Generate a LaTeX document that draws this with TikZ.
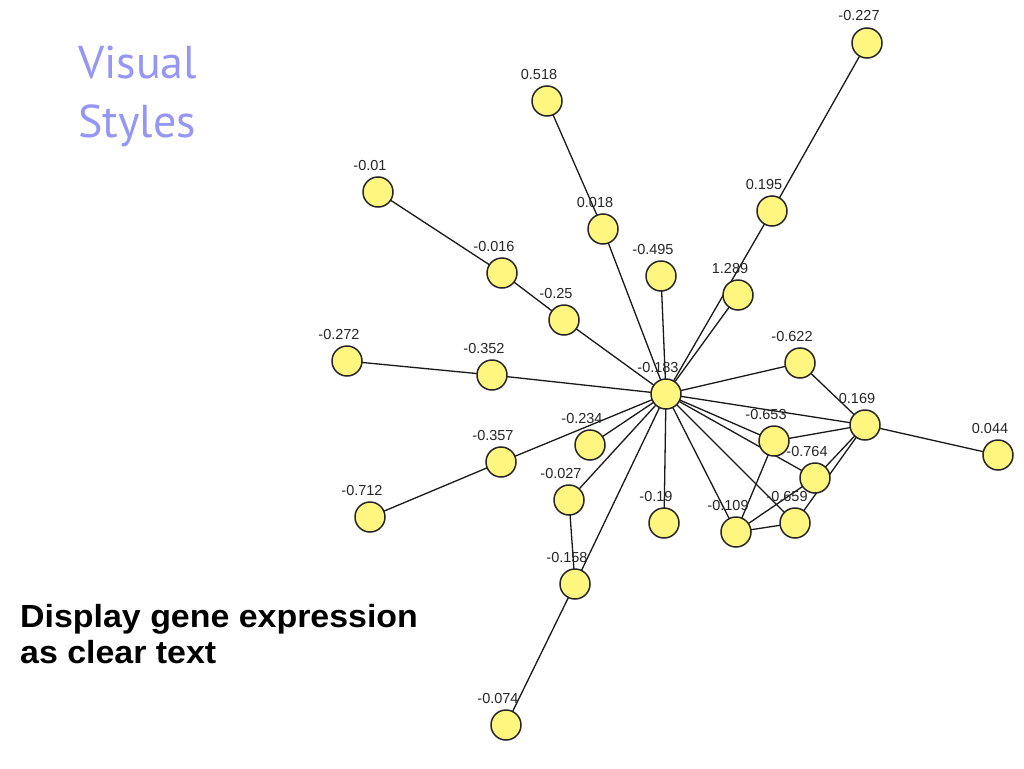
\documentclass[tikz,border=0pt]{standalone}
\usepackage{fontspec}
\setmainfont{Liberation Sans}
\newfontfamily\titlefont{PT Sans}
\newfontfamily\capfont[FakeStretch=1.06]{Liberation Sans}
\definecolor{geneyellow}{RGB}{255,246,128}
\definecolor{titleblue}{RGB}{150,150,245}
\definecolor{edgegray}{RGB}{25,25,25}
\begin{document}
\begin{tikzpicture}[x=1pt,y=-1pt,
  gene/.style={circle,draw=black!85,line width=1.5pt,fill=geneyellow,minimum size=30pt,inner sep=0pt},
  lbl/.style={font=\fontsize{14.5}{16}\selectfont,text=black!85,inner sep=0pt,anchor=base},
  edge/.style={draw=edgegray,line width=1.3pt},
  title/.style={font=\titlefont\fontsize{46}{60}\selectfont,text=titleblue,anchor=base west,inner sep=0pt},
  caption/.style={font=\capfont\bfseries\fontsize{32}{36}\selectfont,text=black,anchor=base west,inner sep=0pt}]
\useasboundingbox (0,0) rectangle (1024,768);
\fill[white] (0,0) rectangle (1024,768);
\newcommand{\gene}[4]{%
  \node[gene] (#1) at (#2,#3) {};
  \node[lbl] (#1-l) at ([xshift=-8pt,yshift=22pt]#1.center) {#4};}
% edges first (drawn underneath)
\path
  (867,43) coordinate (pA) (547,101) coordinate (pB) (378,192) coordinate (pC)
  (603,229) coordinate (pD) (772,211) coordinate (pE) (502,273) coordinate (pF)
  (661,276) coordinate (pG) (738,295) coordinate (pH) (564,320) coordinate (pI)
  (347,361) coordinate (pJ) (492,375) coordinate (pK) (800,363) coordinate (pL)
  (666,394) coordinate (pM) (865,425) coordinate (pN) (998,455) coordinate (pO)
  (774,441) coordinate (pP) (590,445) coordinate (pQ) (501,462) coordinate (pR)
  (815,478) coordinate (pS) (569,500) coordinate (pT) (370,517) coordinate (pU)
  (664,523) coordinate (pV) (736,532) coordinate (pW) (795,523) coordinate (pX)
  (575,584) coordinate (pY) (506,725) coordinate (pZ);
\draw[edge] (pA) -- (pE);
\draw[edge] (pE) -- (pM);
\draw[edge] (pH) -- (pM);
\draw[edge] (pB) -- (pD);
\draw[edge] (pD) -- (pM);
\draw[edge] (pC) -- (pF);
\draw[edge] (pF) -- (pI);
\draw[edge] (pI) -- (pM);
\draw[edge] (pG) -- (pM);
\draw[edge] (pJ) -- (pK);
\draw[edge] (pK) -- (pM);
\draw[edge] (pL) -- (pM);
\draw[edge] (pL) -- (pN);
\draw[edge] (pM) -- (pN);
\draw[edge] (pN) -- (pO);
\draw[edge] (pM) -- (pP);
\draw[edge] (pM) -- (pS);
\draw[edge] (pM) -- (pX);
\draw[edge] (pM) -- (pW);
\draw[edge] (pM) -- (pV);
\draw[edge] (pM) -- (pQ);
\draw[edge] (pM) -- (pR);
\draw[edge] (pU) -- (pR);
\draw[edge] (pM) -- (pT);
\draw[edge] (pM) -- (pY);
\draw[edge] (pT) -- (pY);
\draw[edge] (pY) -- (pZ);
\draw[edge] (pP) -- (pN);
\draw[edge] (pP) -- (pW);
\draw[edge] (pW) -- (pX);
\draw[edge] (pW) -- (pS);
\draw[edge] (pN) -- (pS);
\draw[edge] (pN) -- (pX);
% nodes
\gene{A}{867}{43}{-0.227}
\gene{B}{547}{101}{0.518}
\gene{C}{378}{192}{-0.01}
\gene{D}{603}{229}{0.018}
\gene{E}{772}{211}{0.195}
\gene{F}{502}{273}{-0.016}
\gene{G}{661}{276}{-0.495}
\gene{H}{738}{295}{1.289}
\gene{I}{564}{320}{-0.25}
\gene{J}{347}{361}{-0.272}
\gene{K}{492}{375}{-0.352}
\gene{L}{800}{363}{-0.622}
\gene{M}{666}{394}{-0.183}
\gene{N}{865}{425}{0.169}
\gene{O}{998}{455}{0.044}
\gene{P}{774}{441}{-0.653}
\gene{Q}{590}{445}{-0.234}
\gene{R}{501}{462}{-0.357}
\gene{S}{815}{478}{-0.764}
\gene{T}{569}{500}{-0.027}
\gene{U}{370}{517}{-0.712}
\gene{V}{664}{523}{-0.19}
\gene{W}{736}{532}{-0.109}
\gene{X}{795}{523}{-0.659}
\gene{Y}{575}{584}{-0.158}
\gene{Z}{506}{725}{-0.074}
% texts
\node[title] (title1) at (78,78) {Visual};
\node[title] (title2) at (78,137) {Styles};
\node[caption] (caption1) at (20,627) {Display gene expression};
\node[caption] (caption2) at (20,663) {as clear text};
\end{tikzpicture}
\end{document}
